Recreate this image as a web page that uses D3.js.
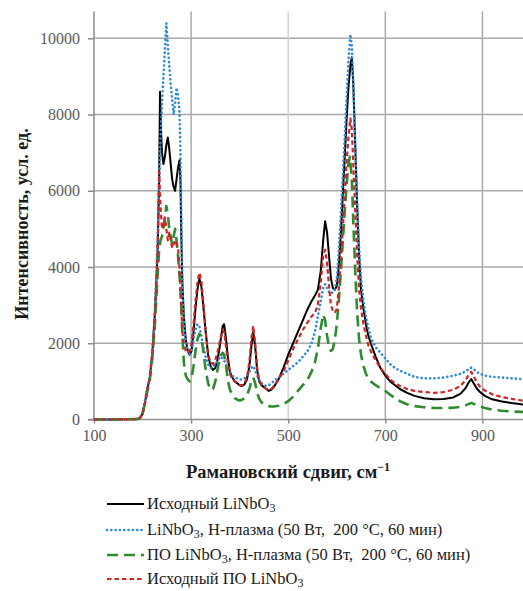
<!DOCTYPE html>
<html>
<head>
<meta charset="utf-8">
<script src="https://cdn.jsdelivr.net/npm/d3@7/dist/d3.min.js"></script>
<style>
  html, body { margin: 0; padding: 0; background: #ffffff; }
  svg { display: block; }
  text { white-space: pre; }
</style>
</head>
<body>
<svg id="chart" width="523" height="591"></svg>
<script>
// Raman spectra: [shift, intensity] pairs for each sample
const pristineLN = [[100,0],[150,0],[190,10],[195,40],[200,150],[205,450],[210,800],[215,1100],[220,1700],[225,2700],[228,3500],[231,4400],[234,6200],[236,8600],[238,7600],[240,7000],[243,6700],[246,6900],[249,7200],[252,7400],[255,7100],[258,6700],[261,6300],[264,6100],[267,6000],[270,6300],[273,6600],[276,6800],[278,6300],[280,4700],[282,3600],[285,2700],[289,2100],[293,1800],[297,1700],[301,1800],[305,2300],[309,2900],[313,3400],[317,3700],[321,3500],[325,3000],[330,2300],[335,1700],[340,1400],[345,1300],[350,1350],[355,1600],[360,2000],[365,2450],[368,2500],[372,2100],[376,1600],[380,1250],[385,1100],[390,1000],[395,950],[400,900],[405,880],[410,920],[415,1050],[420,1400],[424,1900],[428,2300],[432,1900],[436,1300],[440,1000],[445,900],[450,850],[455,800],[460,750],[465,780],[470,850],[480,1050],[490,1350],[500,1700],[510,2000],[520,2300],[530,2600],[540,2900],[548,3100],[555,3250],[561,3400],[567,3900],[572,4700],[576,5200],[580,4900],[584,4300],[588,3700],[592,3450],[596,3400],[600,3500],[604,4000],[608,4800],[612,5800],[616,6800],[620,7800],[624,8700],[628,9300],[631,9500],[634,8800],[638,7200],[642,5600],[646,4300],[650,3400],[655,2900],[660,2500],[665,2200],[670,2000],[680,1650],[690,1350],[700,1150],[710,1000],[720,900],[730,800],[745,700],[760,620],[780,560],[800,530],[820,540],[840,580],[855,680],[865,820],[872,980],[877,1060],[882,950],[888,820],[895,720],[905,620],[920,530],[940,470],[960,430],[980,400],[1000,380]];

const plasmaLN = [[100,0],[150,0],[190,20],[195,60],[200,200],[205,500],[210,850],[215,1150],[220,1800],[225,2800],[228,3700],[231,4800],[234,6000],[237,7400],[240,8300],[243,9000],[246,9700],[249,10400],[252,9800],[255,9300],[258,8800],[261,8400],[264,8000],[267,8300],[270,8700],[273,8500],[276,8100],[278,7000],[280,5200],[282,3500],[285,2600],[289,2000],[293,1800],[297,1700],[301,1800],[305,2100],[309,2350],[313,2500],[317,2450],[321,2200],[325,1900],[330,1650],[335,1450],[340,1350],[345,1380],[350,1450],[355,1550],[360,1650],[365,1600],[370,1500],[375,1350],[380,1250],[385,1150],[390,1100],[395,1080],[400,1050],[405,1050],[410,1080],[415,1150],[420,1250],[424,1350],[428,1400],[432,1300],[436,1150],[440,1050],[445,950],[450,900],[455,880],[460,900],[465,950],[470,1000],[480,1100],[490,1200],[500,1300],[510,1400],[520,1500],[530,1650],[540,1800],[548,2000],[555,2300],[561,2700],[567,3100],[572,3450],[576,3550],[580,3450],[584,3350],[588,3300],[592,3350],[596,3400],[600,3700],[604,4400],[608,5300],[612,6300],[616,7300],[620,8400],[624,9400],[628,10100],[631,9800],[634,8800],[638,7200],[642,5700],[646,4500],[650,3700],[655,3100],[660,2700],[665,2400],[670,2150],[680,1900],[690,1750],[700,1600],[710,1450],[720,1350],[730,1280],[745,1200],[760,1120],[780,1080],[800,1080],[820,1100],[840,1150],[855,1200],[865,1260],[872,1320],[877,1360],[882,1320],[888,1250],[895,1200],[905,1150],[920,1120],[940,1100],[960,1080],[980,1060],[1000,1050]];

const plasmaProtonLN = [[100,0],[150,0],[190,10],[195,40],[200,150],[205,420],[210,750],[215,1050],[220,1600],[225,2400],[228,3100],[231,3800],[234,4400],[237,4700],[240,4800],[243,5000],[246,5300],[249,5600],[252,5400],[255,5000],[258,4800],[261,4600],[264,4800],[267,5000],[270,4700],[273,4300],[276,3800],[279,3200],[282,2200],[285,1500],[289,1150],[293,1050],[297,1000],[301,1100],[305,1400],[309,1800],[313,2100],[317,2250],[321,2150],[325,1800],[330,1300],[335,950],[340,780],[345,800],[350,1000],[355,1350],[360,1650],[365,1750],[368,1700],[372,1400],[376,1000],[380,780],[385,650],[390,560],[395,520],[400,500],[405,520],[410,560],[415,650],[420,800],[424,1000],[428,1100],[432,950],[436,700],[440,550],[445,450],[450,400],[455,370],[460,350],[465,340],[470,340],[480,360],[490,400],[500,480],[510,600],[520,750],[530,900],[540,1050],[548,1250],[555,1500],[561,1850],[567,2400],[572,2750],[576,2600],[580,2200],[584,1900],[588,1800],[592,1850],[596,2100],[600,2500],[604,3100],[608,3800],[612,4600],[616,5400],[620,6100],[624,6700],[627,6900],[631,6300],[634,5200],[638,3900],[642,2800],[646,2100],[650,1700],[655,1400],[660,1200],[665,1080],[670,1000],[680,900],[690,820],[700,750],[710,650],[720,560],[730,480],[745,400],[760,350],[780,320],[800,300],[820,300],[840,310],[855,330],[865,370],[872,410],[877,430],[882,410],[888,380],[895,340],[905,300],[920,260],[940,230],[960,210],[980,200],[1000,190]];

const protonLN = [[100,0],[150,0],[190,10],[195,40],[200,150],[205,430],[210,780],[215,1080],[220,1700],[225,2600],[228,3400],[231,4300],[234,6500],[237,5600],[240,5000],[243,5100],[246,5300],[249,5000],[252,4700],[255,4900],[258,4700],[261,4500],[264,4600],[267,4700],[270,4600],[273,4500],[276,4000],[279,3100],[282,2300],[285,2000],[289,1800],[293,1750],[297,1800],[301,2000],[305,2500],[309,3100],[313,3600],[317,3850],[321,3650],[325,3100],[330,2300],[335,1700],[340,1500],[345,1450],[350,1550],[355,1800],[360,2100],[365,2350],[368,2300],[372,1900],[376,1450],[380,1200],[385,1050],[390,1000],[395,950],[400,900],[405,900],[410,950],[415,1100],[420,1500],[424,2100],[428,2450],[432,2000],[436,1350],[440,1050],[445,920],[450,850],[455,800],[460,780],[465,800],[470,870],[480,1050],[490,1250],[500,1550],[510,1850],[520,2100],[530,2350],[540,2550],[548,2700],[555,2800],[561,3000],[567,3600],[572,4300],[576,4450],[580,4100],[584,3500],[588,3000],[592,2850],[596,2800],[600,2900],[604,3400],[608,4100],[612,4900],[616,5800],[620,6700],[624,7400],[628,7900],[631,7600],[634,6700],[638,5500],[642,4300],[646,3400],[650,2900],[655,2500],[660,2200],[665,1950],[670,1800],[680,1550],[690,1350],[700,1200],[710,1050],[720,950],[730,880],[745,800],[760,750],[780,720],[800,700],[820,720],[840,780],[855,880],[865,1030],[872,1180],[877,1250],[882,1130],[888,980],[895,860],[905,760],[920,660],[940,590],[960,540],[980,500],[1000,470]];

const xTicks = [100, 300, 500, 700, 900];
const yTicks = [0, 2000, 4000, 6000, 8000, 10000];

const seriesNames = [
  ["Исходный LiNbO", "3", ""],
  ["LiNbO", "3", ", H-плазма (50 Вт,  200 °C, 60 мин)"],
  ["ПО LiNbO", "3", ", H-плазма (50 Вт,  200 °C, 60 мин)"],
  ["Исходный ПО LiNbO", "3", ""]
];

const series = [
  { data: pristineLN,     color: "#000000", width: 2,   dash: null,   cap: "butt" },
  { data: plasmaLN,       color: "#2f8ad8", width: 2.6, dash: "0.1,4.2", cap: "round" },
  { data: plasmaProtonLN, color: "#2e8b2e", width: 2.6, dash: "11,6", cap: "butt" },
  { data: protonLN,       color: "#d02424", width: 2.2, dash: "4.5,3", cap: "butt" }
];

const svg = d3.select("#chart");
const serif = "'Liberation Serif', 'DejaVu Serif', serif";

const x = d3.scaleLinear().domain([100, 1000]).range([94, 531]);
const y = d3.scaleLinear().domain([0, 10700]).range([419.5, 11.6]);

// gridlines
const grid = svg.append("g");
grid.selectAll("line.h").data(yTicks.filter(d => d > 0)).enter().append("line")
  .attr("x1", x(100)).attr("x2", 523)
  .attr("y1", d => y(d)).attr("y2", d => y(d))
  .attr("stroke", "#a9a9a9").attr("stroke-width", 1.5);
grid.selectAll("line.v").data(xTicks.filter(d => d > 100)).enter().append("line")
  .attr("x1", d => x(d)).attr("x2", d => x(d))
  .attr("y1", y(10700)).attr("y2", y(0))
  .attr("stroke", d => d === 500 ? "#d4d4d4" : "#a9a9a9").attr("stroke-width", 1.5);

// axes
const xAxis = d3.axisBottom(x).tickValues(xTicks).tickSize(4).tickPadding(6).tickFormat(d3.format("d"));
const yAxis = d3.axisLeft(y).tickValues(yTicks).tickSize(6).tickPadding(8).tickFormat(d3.format("d"));

const gx = svg.append("g").attr("transform", `translate(0,${y(0)})`).call(xAxis);
const gy = svg.append("g").attr("transform", `translate(${x(100)},0)`).call(yAxis);

[gx, gy].forEach(g => {
  g.select(".domain").attr("stroke", "#8c8c8c").attr("stroke-width", 1.5);
  g.selectAll(".tick line").attr("stroke", "#8c8c8c").attr("stroke-width", 1.5);
  g.selectAll(".tick text").attr("font-family", serif).attr("font-size", 16).attr("fill", "#595959");
});
gx.select(".domain").attr("d", `M${x(100) - 6},0H523`);
gy.select(".domain").attr("d", `M0,${y(10700)}V${y(0)}`);

// spectra
const line = d3.line().x(d => x(d[0])).y(d => y(d[1]));
const plot = svg.append("g");
series.forEach(s => {
  plot.append("path")
    .datum(s.data)
    .attr("d", line)
    .attr("fill", "none")
    .attr("stroke", s.color)
    .attr("stroke-width", s.width)
    .attr("stroke-linejoin", "round")
    .attr("stroke-linecap", s.cap)
    .attr("stroke-dasharray", s.dash);
});

// axis titles
const xt = svg.append("text")
  .attr("x", 288).attr("y", 478)
  .attr("text-anchor", "middle")
  .attr("font-family", serif).attr("font-weight", "bold").attr("font-size", 18.5)
  .attr("fill", "#1a1a1a");
xt.append("tspan").text("Рамановский сдвиг, см");
xt.append("tspan").attr("dy", -7).attr("font-size", 12).text("−1");

svg.append("text")
  .attr("transform", "translate(28,224) rotate(-90)")
  .attr("text-anchor", "middle")
  .attr("font-family", serif).attr("font-weight", "bold").attr("font-size", 18)
  .attr("fill", "#1a1a1a")
  .text("Интенсивность, усл. ед.");

// legend
const legend = svg.append("g");
const rowY = [504, 530, 555, 579];
series.forEach((s, i) => {
  const row = legend.append("g").attr("transform", `translate(0,${rowY[i]})`);
  row.append("line")
    .attr("x1", 107).attr("x2", 144).attr("y1", 0).attr("y2", 0)
    .attr("stroke", s.color).attr("stroke-width", s.width)
    .attr("stroke-linecap", s.cap)
    .attr("stroke-dasharray", s.dash);
  const t = row.append("text")
    .attr("x", 147).attr("y", 5)
    .attr("font-family", serif).attr("font-size", 16.5).attr("fill", "#1a1a1a");
  const [a, sub, b] = seriesNames[i];
  t.append("tspan").text(a);
  t.append("tspan").attr("dy", 3).attr("font-size", 12).text(sub);
  if (b) t.append("tspan").attr("dy", -3).text(b);
});
</script>
</body>
</html>
